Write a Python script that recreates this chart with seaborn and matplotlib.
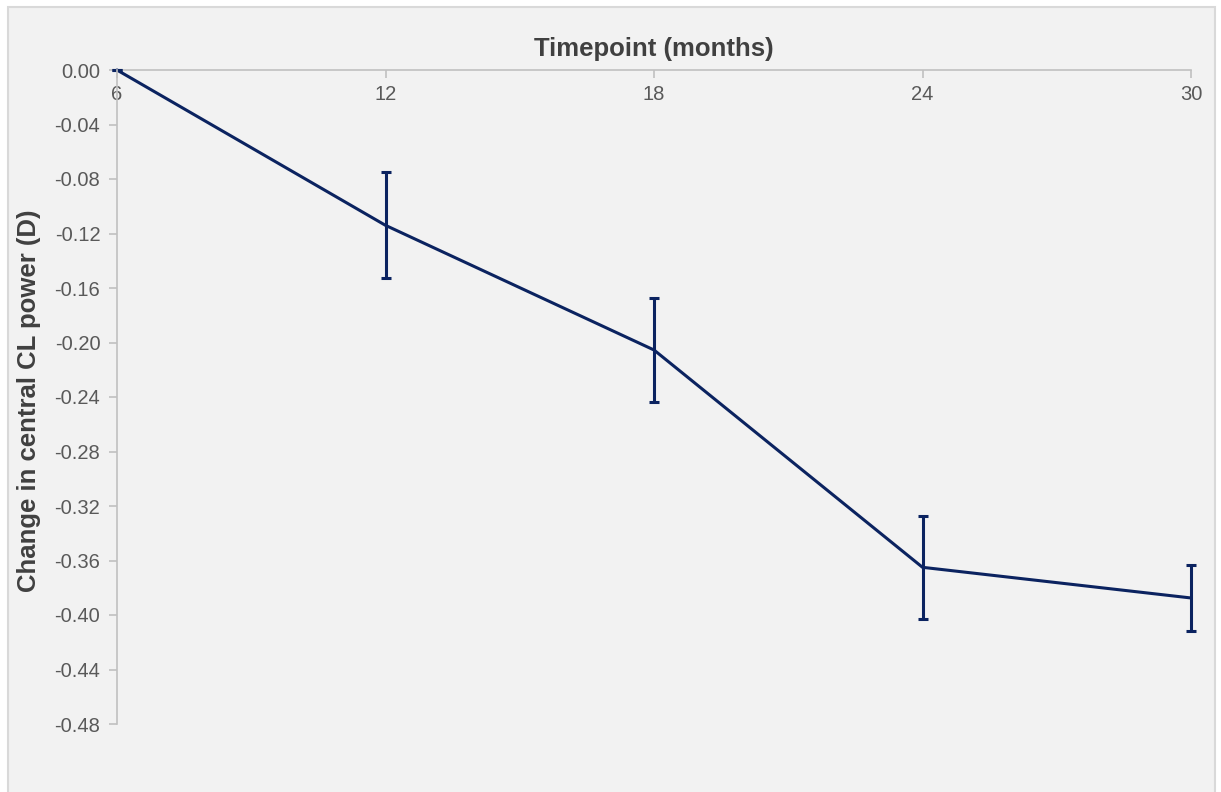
import matplotlib
matplotlib.use('Agg')
import matplotlib.pyplot as plt
from matplotlib.patches import Rectangle
import seaborn as sns
import pandas as pd

months = [6, 12, 18, 24, 30]
change = [0.0, -0.114, -0.2055, -0.365, -0.3875]
err = [0.0, 0.039, 0.038, 0.038, 0.0245]
yticks = [0.00, -0.04, -0.08, -0.12, -0.16, -0.20, -0.24, -0.28, -0.32, -0.36, -0.40, -0.44, -0.48]

sns.set_style('white')
plt.rcParams['font.family'] = ['Liberation Sans', 'DejaVu Sans']
plt.rcParams['axes.unicode_minus'] = False

W, H = 1221, 792
fig = plt.figure(figsize=(W / 100, H / 100), dpi=100, facecolor='white')
fig.patches.append(Rectangle((8 / W, -0.01), 1207 / W, 1 - 7 / H + 0.01,
                             transform=fig.transFigure, facecolor='#f2f2f2',
                             edgecolor='#d9d9d9', linewidth=1.5, zorder=-5))

ax = fig.add_axes([117 / W, 1 - 724 / H, (1191 - 117) / W, (724 - 70) / H])
ax.set_facecolor('none')

df = pd.DataFrame({'month': months, 'change': change})
navy = '#0b2360'
sns.lineplot(data=df, x='month', y='change', color=navy, linewidth=2.2, ax=ax)
eb = ax.errorbar(months, change, yerr=err, fmt='none', ecolor=navy, elinewidth=2.2,
                 capsize=3.5, capthick=2.2)
for art in eb.lines[1] + eb.lines[2]:
    art.set_clip_on(False)
for line in ax.lines:
    line.set_clip_on(False)

ax.set_xlim(6, 30)
ax.set_ylim(-0.48, 0)
ax.set_xticks(months)
ax.set_yticks(yticks)
ax.set_yticklabels([f'{v:.2f}' for v in yticks])

for s in ['top', 'right']:
    ax.spines[s].set_visible(False)
ax.spines['bottom'].set_position(('data', 0))
for s in ['bottom', 'left']:
    ax.spines[s].set_color('#c0c0c0')
    ax.spines[s].set_linewidth(1.2)
ax.spines['bottom'].set_zorder(0.5)

ax.tick_params(axis='both', bottom=True, left=True, colors='#c0c0c0',
               labelcolor='#595959', labelsize=14.5,
               length=6, width=1.2, direction='out')
ax.tick_params(axis='x', pad=5)
ax.tick_params(axis='y', pad=6)

ax.xaxis.set_label_position('top')
ax.set_xlabel('Timepoint (months)', fontsize=18.5, fontweight='bold', color='#404040', labelpad=10)
ax.set_ylabel('Change in central CL power (D)', fontsize=18.5, fontweight='bold', color='#404040')
ax.yaxis.set_label_coords(-0.071, 0.494)

fig.savefig('out.png', dpi=100, facecolor='white')
